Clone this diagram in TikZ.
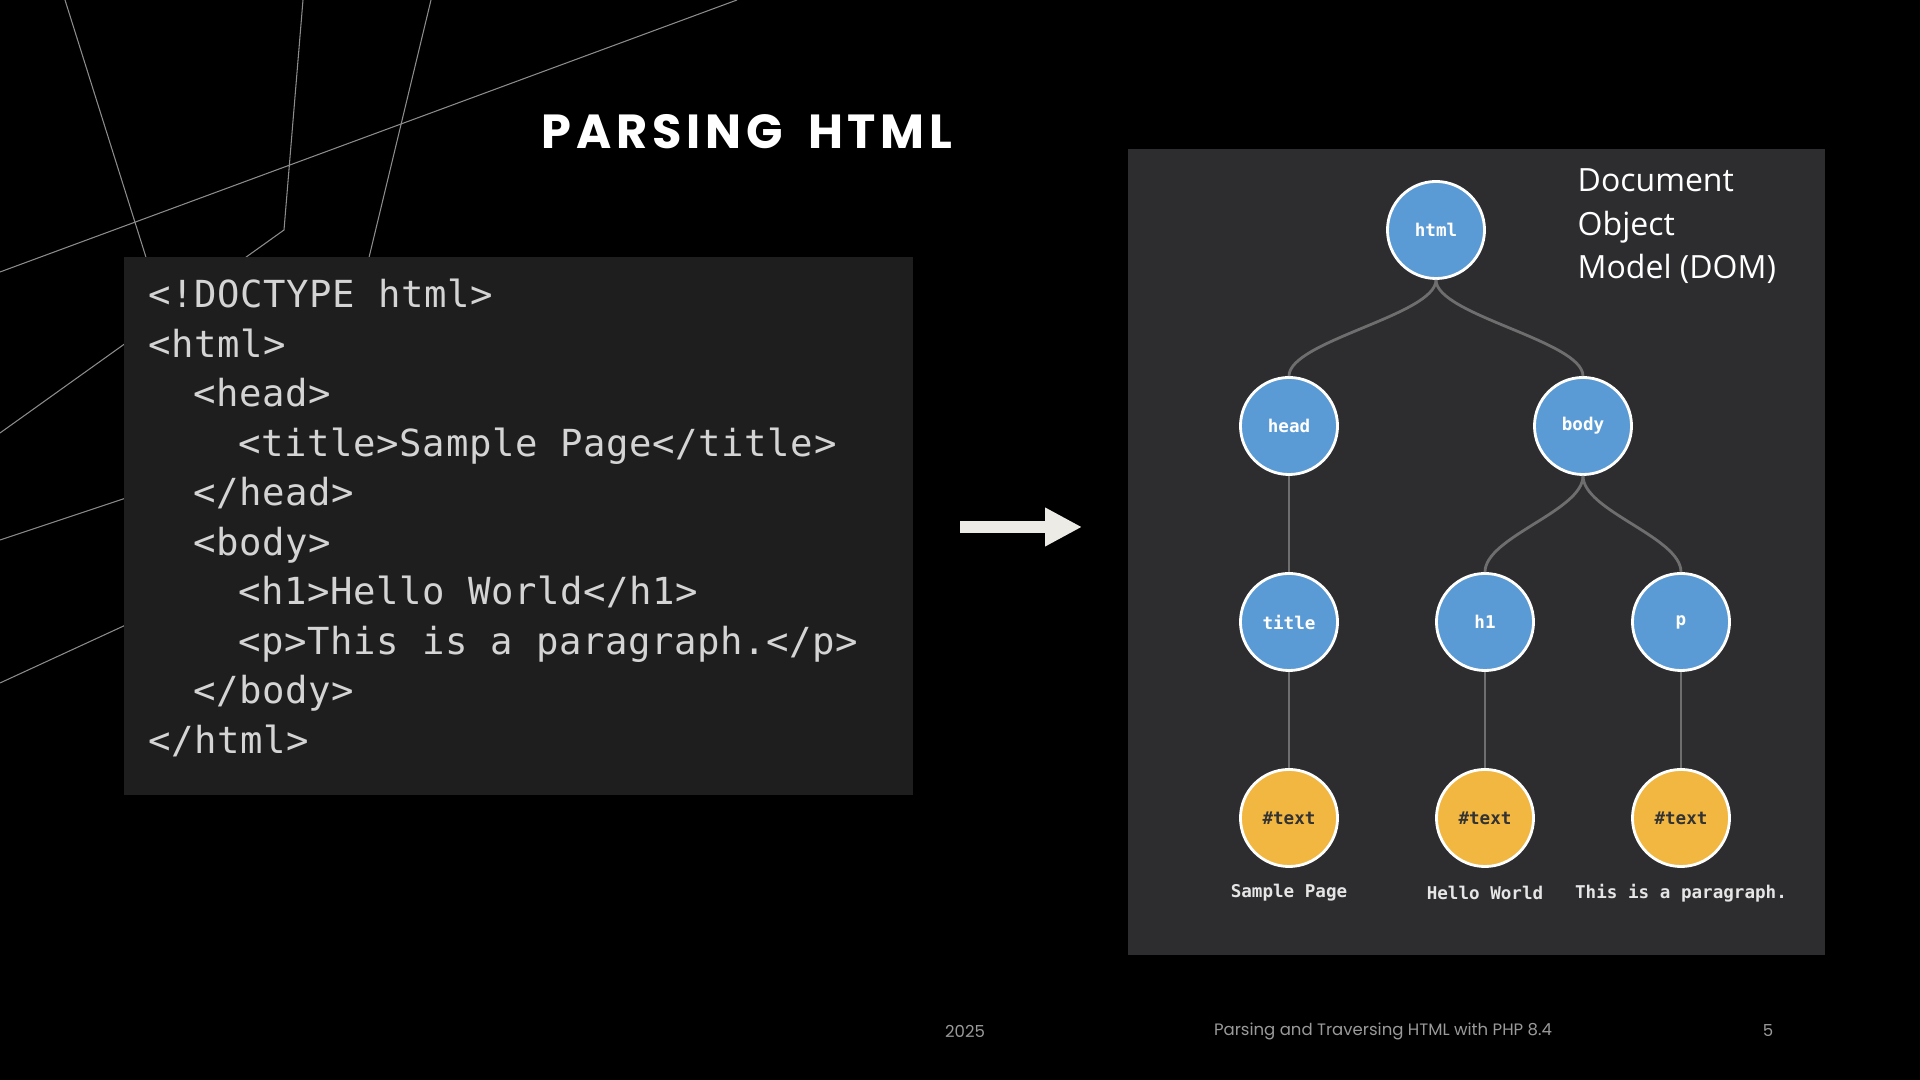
\documentclass[tikz,border=0pt]{standalone}
\usepackage{fontspec}
\usepackage{tikz}
\usetikzlibrary{positioning,arrows.meta}
\setmainfont{Open Sans}
\newfontfamily\codefont[LetterSpace=1.6]{DejaVu Sans Mono}
\newfontfamily\nodefont{DejaVu Sans Mono}
\newfontfamily\headfont[LetterSpace=10]{Poppins}
\newfontfamily\footfont{Poppins}
\definecolor{codebg}{HTML}{1E1E1E}
\definecolor{dombg}{HTML}{2D2D30}
\definecolor{codefg}{HTML}{D4D4D4}
\definecolor{nodeblue}{HTML}{5B9BD5}
\definecolor{nodegold}{HTML}{F2B740}
\definecolor{linkgray}{HTML}{6E6E6E}
\definecolor{decogray}{HTML}{8C8C8C}
\definecolor{footgray}{HTML}{9A9A9A}
\definecolor{arrowwhite}{HTML}{ECEBE6}

\begin{document}
\begin{tikzpicture}[x=0.01cm, y=-0.01cm,
    elem/.style={circle, draw=white, line width=0.8pt, fill=nodeblue,
                 minimum size=0.97cm, inner sep=0pt, text=white,
                 font=\nodefont\bfseries\fontsize{5}{6}\selectfont},
    txtnode/.style={elem, fill=nodegold, text=black!80},
    leaflbl/.style={text=white!90!black, inner sep=0pt,
                    font=\nodefont\bfseries\fontsize{5}{6}\selectfont},
    link/.style={draw=linkgray, line width=0.8pt},
    codeline/.style={anchor=base west, inner sep=0pt, text=codefg,
                     font=\codefont\fontsize{10.6}{12}\selectfont},
    domlbl/.style={anchor=base west, inner sep=0pt, text=white,
                   font=\fontsize{9.1}{11}\selectfont},
    foot/.style={text=footgray, inner sep=0pt,
                 font=\footfont\fontsize{4.7}{5}\selectfont},
    deco/.style={draw=decogray, line width=0.3pt}
]
\useasboundingbox (0,0) rectangle (1920,1080);
\fill[black] (0,0) rectangle (1920,1080);

% background lines
\draw[deco] (65,0) -- (150,270);
\draw[deco] (303,0) -- (284,230) -- (0,433);
\draw[deco] (431,0) -- (366,270);
\draw[deco] (737,0) -- (0,272);
\draw[deco] (180,480) -- (0,540);
\draw[deco] (180,600) -- (0,683);

% title
\node[text=white, font=\headfont\bfseries\fontsize{13.6}{16}\selectfont] (hdr) at (747,132) {PARSING\hspace{3pt} HTML};

% source code
\fill[codebg] (124,257) rectangle (913,795);
\foreach \ind/\txt [count=\i from 0] in {0/{<!DOCTYPE html>}, 0/{<html>}, 1/{<head>},
    2/{<title>Sample Page</title>}, 1/{</head>}, 1/{<body>}, 2/{<h1>Hello World</h1>},
    2/{<p>This is a paragraph.</p>}, 1/{</body>}, 0/{</html>}}
  \node[codeline] (line\i) at (148+45*\ind, 308+49.5*\i) {\txt};

% arrow
\coordinate (arrs) at (960,527);
\coordinate (arre) at (1082,527);
\draw[arrowwhite, line width=3.6pt, -{Triangle[length=10.5pt, width=10.3pt]}] (arrs) -- (arre);

% DOM tree
\fill[dombg] (1128,149) rectangle (1825,955);
\foreach \w [count=\i from 0] in {Document, Object, Model (DOM)}
  \node[domlbl] (dom\i) at (1577, 192+43.5*\i) {\w};

\node[elem] (nhtml) at (1436,230) {html};
\node[elem] (nhead) at (1289,426) {head};
\node[elem] (nbody) at (1583,426) {body};
\node[elem] (ntitle) at (1289,622) {title};
\node[elem] (nh1) at (1485,622) {h1};
\node[elem] (np) at (1681,622) {p};
\node[txtnode] (t1) at (1289,818) {\#text};
\node[txtnode] (t2) at (1485,818) {\#text};
\node[txtnode] (t3) at (1681,818) {\#text};

\node[leaflbl] (s1) at (1289,893) {Sample Page};
\node[leaflbl] (s2) at (1485,893) {Hello World};
\node[leaflbl] (s3) at (1681,893) {This is a paragraph.};

\draw[link] (nhtml.south) .. controls +(0,35) and +(0,-35) .. (nhead.north);
\draw[link] (nhtml.south) .. controls +(0,35) and +(0,-35) .. (nbody.north);
\draw[link] (nbody.south) .. controls +(0,35) and +(0,-35) .. (nh1.north);
\draw[link] (nbody.south) .. controls +(0,35) and +(0,-35) .. (np.north);
\draw[link] (nhead) -- (ntitle);
\draw[link] (ntitle) -- (t1);
\draw[link] (nh1) -- (t2);
\draw[link] (np) -- (t3);

% footer
\node[foot] (yr) at (965,1031) {2025};
\node[foot] (ftxt) at (1383,1031) {Parsing and Traversing HTML with PHP 8.4};
\node[foot] (pg) at (1768,1031) {5};
\end{tikzpicture}
\end{document}
